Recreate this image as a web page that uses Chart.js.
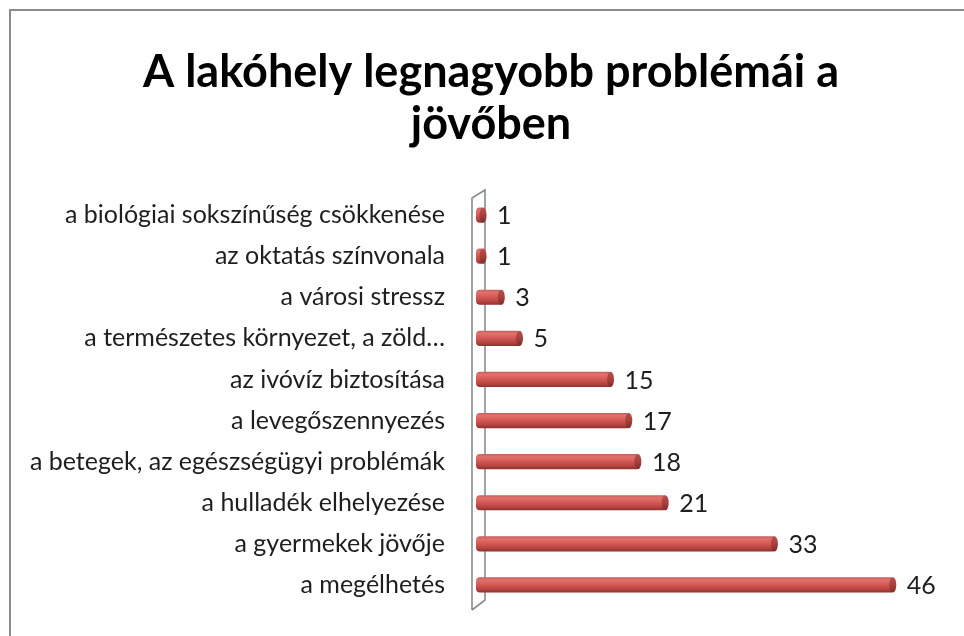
<!DOCTYPE html>
<html lang="hu">
<head>
<meta charset="utf-8">
<title>A lakóhely legnagyobb problémái a jövőben</title>
<script src="https://cdn.jsdelivr.net/npm/chart.js@4.4.1/dist/chart.umd.min.js"></script>
<style>
  html, body { margin: 0; padding: 0; background: #fff; overflow: hidden; }
  #wrap { position: absolute; left: 0; top: 0; width: 964px; height: 636px; }
  #frame { position: absolute; left: 9px; top: 9px; width: 980px; height: 660px;
           border-left: 2px solid #8c8c8c; border-top: 2px solid #8c8c8c; pointer-events: none; }
</style>
</head>
<body>
<div id="wrap"><canvas id="chart" width="964" height="636"></canvas></div>
<div id="frame"></div>
<script>
const TITLE_LINES = ['A lakóhely legnagyobb problémái a', 'jövőben'];

const categories = [
    'a biológiai sokszínűség csökkenése',
    'az oktatás színvonala',
    'a városi stressz',
    'a természetes környezet, a zöld…',
    'az ivóvíz biztosítása',
    'a levegőszennyezés',
    'a betegek, az egészségügyi problémák',
    'a hulladék elhelyezése',
    'a gyermekek jövője',
    'a megélhetés'
];

const counts = [1, 1, 3, 5, 15, 17, 18, 21, 33, 46];

const FONT = 'Lato, Calibri, "Open Sans", sans-serif';
const LABEL_SIZE = 25;

// hengeres oszlop: függőleges színátmenet az oszlop magasságában
function cylinderFill(ctx) {
    const chart = ctx.chart;
    if (!chart.chartArea || ctx.type !== 'data') return '#c0504d';
    const yScale = chart.scales.y;
    const cy = yScale.getPixelForValue(ctx.dataIndex);
    const h = yScale.getPixelForValue(1) - yScale.getPixelForValue(0);
    const half = Math.abs(h) * 0.37 / 2;
    const g = chart.ctx.createLinearGradient(0, cy - half, 0, cy + half);
    g.addColorStop(0, '#c4605d');
    g.addColorStop(0.18, '#e2716d');
    g.addColorStop(0.45, '#d65b57');
    g.addColorStop(0.8, '#b4433f');
    g.addColorStop(1, '#8a302e');
    return g;
}

// a tengely melletti „fal” keretvonalai
const wallPlugin = {
    id: 'wall',
    beforeDatasetsDraw(chart) {
        const { ctx, chartArea } = chart;
        const x0 = chart.scales.x.getPixelForValue(0);
        const fx = x0 - 4, bx = x0 + 9;
        ctx.save();
        ctx.strokeStyle = '#8c8c8c';
        ctx.lineWidth = 1.6;
        ctx.beginPath();
        ctx.moveTo(fx, chartArea.bottom + 4.5);
        ctx.lineTo(fx, chartArea.top + 3.5);
        ctx.lineTo(bx, chartArea.top - 4.5);
        ctx.lineTo(bx, chartArea.bottom - 5.5);
        ctx.lineTo(fx, chartArea.bottom + 4.5);
        ctx.stroke();
        ctx.restore();
    }
};

// oszlopvégek és értékcímkék
const capsPlugin = {
    id: 'caps',
    afterDatasetsDraw(chart) {
        const { ctx } = chart;
        const meta = chart.getDatasetMeta(0);
        ctx.save();
        meta.data.forEach((bar, i) => {
            const ry = bar.height / 2;
            const g = ctx.createLinearGradient(0, bar.y - ry, 0, bar.y + ry);
            g.addColorStop(0, '#b5504d');
            g.addColorStop(0.5, '#a8413e');
            g.addColorStop(1, '#7e2b29');
            ctx.fillStyle = g;
            ctx.beginPath();
            ctx.ellipse(bar.x - 2, bar.y, 3.5, ry, 0, 0, Math.PI * 2);
            ctx.fill();

            ctx.fillStyle = '#1e1e1e';
            ctx.font = LABEL_SIZE + 'px ' + FONT;
            ctx.textAlign = 'left';
            ctx.textBaseline = 'middle';
            ctx.fillText(String(counts[i]), bar.x + 12, bar.y + 1);
        });
        ctx.restore();
    }
};

new Chart(document.getElementById('chart'), {
    type: 'bar',
    data: {
        labels: categories,
        datasets: [{
            data: counts,
            backgroundColor: cylinderFill,
            borderWidth: 0,
            borderRadius: 4,
            borderSkipped: false,
            barPercentage: 0.37,
            categoryPercentage: 1
        }]
    },
    options: {
        indexAxis: 'y',
        responsive: false,
        animation: false,
        layout: { padding: { left: 18, right: 0, top: 0, bottom: 30.5 } },
        plugins: {
            legend: { display: false },
            tooltip: { enabled: false },
            title: {
                display: true,
                text: TITLE_LINES,
                color: '#000',
                font: { family: FONT, size: 45, weight: 'bold', lineHeight: 52 / 45 },
                padding: { top: 46, bottom: 44.5 }
            }
        },
        scales: {
            x: { display: false, min: 0, max: 53.6 },
            y: {
                // a címkék és a fal közti rés a (rejtett) tick hosszából jön
                grid: { display: false, drawTicks: true, tickLength: 31 },
                border: { display: false },
                ticks: { color: '#1e1e1e', padding: 0, font: { family: FONT, size: LABEL_SIZE } },
                afterFit(scale) { scale.width = 458; }
            }
        }
    },
    plugins: [wallPlugin, capsPlugin]
});
</script>
</body>
</html>
